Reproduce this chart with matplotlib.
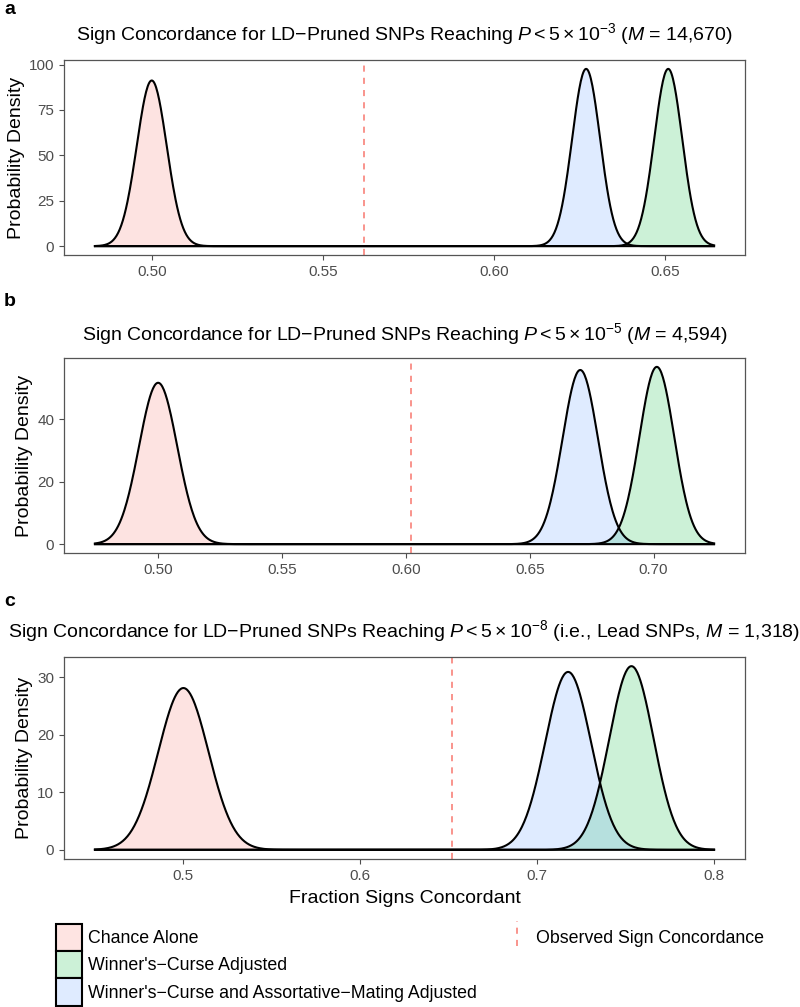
import numpy as np
import matplotlib
matplotlib.use("Agg")
import matplotlib.pyplot as plt
from matplotlib.patches import Patch
from matplotlib.lines import Line2D

plt.rcParams['font.family'] = ['Liberation Sans', 'DejaVu Sans']
plt.rcParams['mathtext.fontset'] = 'custom'
plt.rcParams['mathtext.rm'] = 'Liberation Sans'
plt.rcParams['mathtext.it'] = 'Liberation Sans:italic'

# groups (legend order)
groups = ["Chance Alone", "Winner's\u2212Curse Adjusted",
          "Winner's\u2212Curse and Assortative\u2212Mating Adjusted"]
fills = ['#F8766D', '#00BA38', '#619CFF']

panel_labels = ['a', 'b', 'c']
titles = [
    r"Sign Concordance for LD$-$Pruned SNPs Reaching $P<5\times10^{-3}$ ($M$ = 14,670)",
    r"Sign Concordance for LD$-$Pruned SNPs Reaching $P<5\times10^{-5}$ ($M$ = 4,594)",
    r"Sign Concordance for LD$-$Pruned SNPs Reaching $P<5\times10^{-8}$ (i.e., Lead SNPs, $M$ = 1,318)",
]

# peak location and peak height of each density
means_a = [0.500, 0.651, 0.627]
peaks_a = [91.2, 97.6, 97.6]
means_b = [0.500, 0.7013, 0.6704]
peaks_b = [51.7, 56.8, 55.8]
means_c = [0.500, 0.7533, 0.7175]
peaks_c = [28.1, 31.9, 30.9]

x_range_a = [0.4834, 0.6644]
x_range_b = [0.4745, 0.7244]
x_range_c = [0.45, 0.80]

observed = [0.562, 0.6019, 0.6518]

xticks = [[0.50, 0.55, 0.60, 0.65], [0.50, 0.55, 0.60, 0.65, 0.70], [0.5, 0.6, 0.7, 0.8]]
xtick_fmt = ['%.2f', '%.2f', '%.1f']
yticks = [[0, 25, 50, 75, 100], [0, 20, 40], [0, 10, 20, 30]]

means = [means_a, means_b, means_c]
peaks = [peaks_a, peaks_b, peaks_c]
ranges = [x_range_a, x_range_b, x_range_c]

W, H = 800, 1007
fig = plt.figure(figsize=(W / 100, H / 100), dpi=100)

# axes boxes in pixels: left, right, top, bottom
boxes = [(64, 745, 60, 255), (64, 745, 358, 553), (64, 745, 657, 859)]
label_y = [9, 302, 601]
title_pad = [14, 13, 14]

gray = '#4D4D4D'
for i in range(3):
    l, r, t, b = boxes[i]
    ax = fig.add_axes([l / W, 1 - b / H, (r - l) / W, (b - t) / H])
    x = np.linspace(ranges[i][0], ranges[i][1], 800)
    for m, pk, c in zip(means[i], peaks[i], fills):
        sd = 1 / (pk * np.sqrt(2 * np.pi))
        y = pk * np.exp(-0.5 * ((x - m) / sd) ** 2)
        ax.fill_between(x, 0, y, color=c, alpha=0.2, lw=0)
        ax.plot(x, y, color='black', lw=1.5)
    ax.axvline(observed[i], color='#F8766D', ls=(0, (4, 4)), lw=1.1)
    ax.margins(x=0.05, y=0.05)
    ax.set_xticks(xticks[i])
    ax.set_xticklabels([xtick_fmt[i] % v for v in xticks[i]])
    ax.set_yticks(yticks[i])
    ax.tick_params(colors=gray, labelsize=11, length=3.5, width=0.8, labelcolor=gray)
    for s in ax.spines.values():
        s.set_color('#555555')
        s.set_linewidth(0.9)
    ax.set_ylabel('Probability Density', fontsize=14, color='black', labelpad=3)
    ax.set_title(titles[i], fontsize=14, pad=title_pad[i])
    fig.text(4 / W, 1 - label_y[i] / H, panel_labels[i], fontsize=14, fontweight='bold',
             va='center', ha='left')
    if i == 2:
        ax.set_xlabel('Fraction Signs Concordant', fontsize=14, labelpad=5)

handles = [Patch(edgecolor='black', lw=1.5) for c in fills]
# alpha 0.2 over white
for h, c in zip(handles, fills):
    rgb = np.array(matplotlib.colors.to_rgb(c))
    h.set_facecolor(1 - 0.2 * (1 - rgb))
leg1 = fig.legend(handles, groups, loc='upper left', bbox_to_anchor=(52 / W, 1 - 920 / H),
                  frameon=False, fontsize=12.8, handlelength=1.5, handleheight=2.0,
                  labelspacing=0.0, handletextpad=0.3, borderaxespad=0, borderpad=0.2)
leg2 = fig.legend([Line2D([0], [0], color='#F8766D', ls=(0, (4, 4)), lw=1.1)],
                  ['Observed Sign Concordance'], loc='upper left',
                  bbox_to_anchor=(500 / W, 1 - 920 / H), frameon=False, fontsize=12.8,
                  handlelength=1.5, handleheight=2.0, handletextpad=0.3, borderaxespad=0,
                  borderpad=0.2)
for line in leg2.get_lines():
    xm = 0.5 * (line.get_xdata()[0] + line.get_xdata()[-1])
    y0 = line.get_ydata()[0]
    line.set_data([xm, xm], [y0 - 9, y0 + 9])

fig.savefig('out.png', dpi=100)
